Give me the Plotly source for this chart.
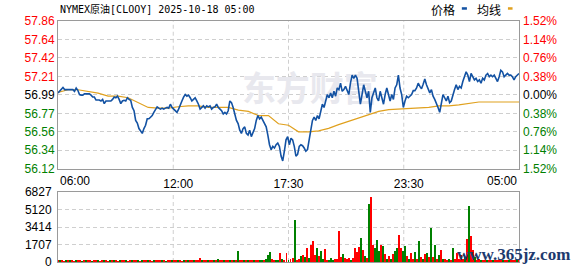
import numpy as np
import plotly.graph_objects as go

# ---------------- data ----------------
title_text = "NYMEX原油[CLOOY] 2025-10-18 05:00"
prev_close = 56.99
price_tick_labels = ["57.86", "57.64", "57.42", "57.21", "56.99", "56.77", "56.56", "56.34", "56.12"]
pct_tick_labels = ["1.52%", "1.14%", "0.76%", "0.38%", "0.00%", "0.38%", "0.76%", "1.14%", "1.52%"]
vol_tick_labels = ["0", "1707", "3414", "5120", "6827"]
vol_max = 6827
time_labels = ["06:00", "12:00", "17:30", "23:30", "05:00"]
time_minutes = [0, 360, 690, 1050, 1380]   # minutes after 06:00

price_seg1 = [57.013, 57.032, 57.052, 57.078, 57.052, 57.052, 57.044, 57.052, 57.044, 57.052,
              57.032, 57.071, 57.044, 56.994, 56.987, 56.987, 57.002, 57.002, 57.002, 57.002,
              56.987, 56.964, 56.964, 56.929, 56.929, 56.929, 56.918, 56.937, 56.887, 56.918,
              56.918, 56.918, 56.918, 56.937, 56.964, 56.956, 56.975, 56.937, 56.887, 56.918,
              56.926, 56.918, 56.956, 56.937, 56.926, 56.842, 56.803, 56.689, 56.658, 56.593,
              56.555, 56.536, 56.593, 56.632, 56.708, 56.708, 56.727, 56.746, 56.784, 56.822,
              56.849, 56.834, 56.822, 56.834, 56.822, 56.834, 56.842, 56.834, 56.880, 56.842,
              56.822, 56.803]
price_seg2 = [56.784, 56.822, 56.861, 56.918, 56.964, 56.994, 56.975, 56.987, 56.956,
              56.918, 56.937, 56.956, 56.918, 56.880, 56.822, 56.842, 56.861, 56.834, 56.861,
              56.849, 56.861, 56.822, 56.842, 56.849, 56.880, 56.842, 56.822, 56.803, 56.765,
              56.784, 56.765, 56.803, 56.918, 56.899, 56.842, 56.765, 56.689, 56.651, 56.574,
              56.536, 56.593, 56.613, 56.536, 56.517, 56.574, 56.498, 56.536, 56.593, 56.689,
              56.746, 56.708, 56.727, 56.689, 56.651, 56.613, 56.517, 56.403, 56.345, 56.383,
              56.364, 56.403, 56.422, 56.383, 56.269, 56.212, 56.326, 56.460, 56.498, 56.403,
              56.479]
price_seg3 = [56.460, 56.383, 56.269, 56.288, 56.383, 56.403, 56.391, 56.364, 56.326, 56.345,
              56.441, 56.574, 56.689, 56.727, 56.689, 56.746, 56.708, 56.803, 56.880, 56.842,
              56.937, 56.994, 56.956, 57.013, 56.956, 57.032, 56.975, 57.071, 57.052, 57.128,
              57.032, 57.052, 57.090, 57.032, 56.994, 57.128, 57.223, 57.185, 57.223, 57.185,
              57.032, 56.880, 56.994, 57.109, 57.032, 56.956, 57.032, 56.784, 56.956, 57.013,
              57.071, 56.956, 56.918, 57.032, 56.956, 56.880, 56.994, 57.071, 56.994, 56.918,
              56.994, 56.937, 57.071, 57.109, 57.223, 57.071, 56.994, 56.842, 56.918, 56.975]
price_seg4 = [56.956, 56.975, 56.994, 57.040, 57.040, 57.071, 57.128, 57.090, 57.063, 57.116,
              57.177, 57.109, 57.052, 57.013, 57.052, 56.975, 56.937, 56.899, 56.842, 56.784,
              56.880, 56.994, 56.956, 56.918, 56.975, 56.899, 56.918, 56.994, 57.052, 57.109,
              57.052, 57.090, 57.071, 57.147, 57.204, 57.261, 57.223, 57.147, 57.242, 57.204,
              57.166, 57.185, 57.147, 57.166, 57.128, 57.185, 57.166, 57.223, 57.242, 57.204,
              57.223, 57.204, 57.223, 57.185, 57.147, 57.204, 57.280, 57.261, 57.204, 57.223,
              57.242, 57.223, 57.223, 57.204, 57.166, 57.204, 57.223, 57.242]

avg_price = [57.02, 57.05, 57.05, 57.03, 57.01, 56.975, 56.975, 56.956, 56.90, 56.842,
             56.834, 56.834, 56.85, 56.861, 56.861, 56.842, 56.842, 56.842, 56.81, 56.796,
             56.746, 56.746, 56.65, 56.632, 56.555, 56.555, 56.565, 56.595, 56.64, 56.68,
             56.72, 56.76, 56.795, 56.815, 56.822, 56.83, 56.842, 56.842, 56.861, 56.861,
             56.872, 56.89, 56.906, 56.906, 56.906, 56.906, 56.906]

volume = [120, 90, 110, 80, 100, 130, 90, 110, 70, 100,
          90, 120, 80, 100, 110, 90, 130, 80, 100, 90,
          110, 80, 120, 90, 100, 70, 110, 90, 100, 120,
          80, 100, 90, 110, 100, 80, 120, 90, 100, 110,
          90, 80, 110, 100, 120, 90, 100, 80, 110, 90,
          100, 120, 90, 110, 80, 100, 90, 120, 100, 90,
          110, 100, 80, 120, 100, 180, 110, 90, 120, 100,
          110, 380, 120, 100, 90, 130, 110, 100, 120, 150,
          250, 120, 100, 130, 110, 140, 120, 100, 150, 130,
          1040, 150, 120, 140, 110, 160, 130, 150, 120, 200,
          150, 180, 140, 200, 300, 630, 950, 250, 180, 160,
          200, 850, 300, 220, 850, 180, 250, 400, 4080, 200,
          300, 600, 700, 500, 1330, 350, 1640, 2020, 700, 1330,
          600, 1040, 300, 1250, 150, 200, 400, 200, 300, 250,
          3060, 500, 800, 400, 250, 400, 200, 400, 1330, 1010,
          1490, 2370, 1150, 600, 400, 5690, 6350, 1650, 1330, 2120,
          1100, 1640, 1520, 800, 300, 600, 300, 750, 1040, 1400,
          2600, 1330, 1040, 1520, 600, 300, 850, 250, 950, 300,
          2020, 500, 300, 800, 900, 500, 3310, 500, 1640, 300,
          700, 1150, 300, 250, 200, 300, 200, 1400, 300, 850,
          250, 700, 300, 500, 2270, 5500, 2500, 1150, 500, 200,
          250, 200, 150, 180, 120, 150, 100, 130, 110, 120,
          100, 140, 110, 90, 120, 100, 110, 130, 100, 120,
          110]
volume_dir = ("rgrrgrgrrg" "rrgrgrrgrr" "grrgrrgrgr" "rgrrgrrgrr" "grgrrgrrgr"
              "rrgrgrrgrr" "grrgrgrrgr" "rrgrrgrrgr" "grrgrrgrgr" "grrgrgrrgr"
              "rggrgggrrg" "grgrrgrrgr" "rgrgrgrrrg" "rggrrgggrr" "rrgrrrgrrr"
              "rgrgrgrrgg" "grgrgrgrgg" "rrggrgrrgr" "grgrgrgrgr" "grgrrgrgrr"
              "rrrgrgrrgr" "rgrrgrrgrr" "rrgrrgrrrg" "r")

# ---------------- build ----------------
price = price_seg1 + price_seg2 + price_seg3 + price_seg4
t_end = time_minutes[-1]
price_x = np.linspace(0, t_end, len(price))
avg_x = np.linspace(0, t_end, len(avg_price))
vol_x = np.linspace(0, t_end, len(volume))
vol_colors = ["#ff0000" if d == "r" else "#008000" for d in volume_dir]

tick_pos = np.linspace(56.12, 57.86, 9)[::-1]


def colored(labels, mid):
    out = []
    for i, s in enumerate(labels):
        c = "#ff0000" if i < mid else ("#000000" if i == mid else "#008000")
        out.append(f'<span style="color:{c}">{s}</span>')
    return out


FONT = "Liberation Sans, Arial, sans-serif"
CJK = "Noto Sans CJK SC, sans-serif"
GRID = "#cfcfcf"
BORDER = "#9a9a9a"
DASH = "4px,3px"

fig = go.Figure()

# watermark (below data)
fig.add_trace(go.Scatter(x=[754], y=[57.013], mode="text", text=["东方财富"],
                         textfont=dict(family=CJK, size=34, color="#e8e8ee", weight="bold"),
                         hoverinfo="skip", showlegend=False))

fig.add_trace(go.Scatter(x=avg_x, y=avg_price, mode="lines",
                         line=dict(color="#e0a11f", width=1.2), showlegend=False))
fig.add_trace(go.Scatter(x=price_x, y=price, mode="lines",
                         line=dict(color="#1352a3", width=1.6), showlegend=False))
# right axis helper (invisible)
fig.add_trace(go.Scatter(x=price_x, y=price, yaxis="y2", mode="lines", opacity=0,
                         hoverinfo="skip", showlegend=False))

fig.add_trace(go.Bar(x=vol_x, y=volume, xaxis="x2", yaxis="y3",
                     marker=dict(color=vol_colors, line=dict(width=0)),
                     width=t_end / 461.0, showlegend=False))

main_dom = [0.387, 1.0]
vol_dom = [0.0, 0.290]

fig.update_layout(
    width=578, height=276,
    margin=dict(l=58, r=59, t=21, b=7),
    paper_bgcolor="white", plot_bgcolor="white",
    bargap=0,
    xaxis=dict(domain=[0, 1], range=[0, t_end], anchor="y",
               tickvals=time_minutes[1:4], ticktext=time_labels[1:4],
               tickfont=dict(family=FONT, size=12, color="#000"),
               ticklabelstandoff=4,
               showgrid=False, zeroline=False, ticks="",
               showline=True, mirror=True, linecolor=BORDER, linewidth=1),
    yaxis=dict(domain=main_dom, range=[56.12, 57.86], anchor="x",
               tickvals=list(tick_pos), ticktext=colored(price_tick_labels, 4),
               tickfont=dict(family=FONT, size=12),
               showgrid=True, gridcolor=GRID, griddash=DASH, gridwidth=1,
               zeroline=False, ticks="",
               showline=True, mirror=True, linecolor=BORDER, linewidth=1),
    yaxis2=dict(overlaying="y", side="right", range=[56.12, 57.86], anchor="x",
                tickvals=list(tick_pos), ticktext=colored(pct_tick_labels, 4),
                tickfont=dict(family=FONT, size=12), ticklabelstandoff=3,
                showgrid=False, zeroline=False, ticks="", showline=False),
    xaxis2=dict(domain=[0, 1], range=[0, t_end], anchor="y3", matches="x",
                showticklabels=False, showgrid=False, zeroline=False, ticks="",
                showline=True, mirror=True, linecolor=BORDER, linewidth=1),
    yaxis3=dict(domain=vol_dom, range=[0, vol_max], anchor="x2",
                tickvals=np.linspace(0, vol_max, 5).tolist(), ticktext=vol_tick_labels,
                tickfont=dict(family=FONT, size=12, color="#000"),
                ticklabelstandoff=3,
                showgrid=True, gridcolor=GRID, griddash=DASH, gridwidth=1,
                zeroline=False, ticks="",
                showline=True, mirror=True, linecolor=BORDER, linewidth=1),
)

# vertical dashed grid lines at quarters
for xq in np.linspace(0, t_end, 5)[1:4]:
    for yr in ["y domain", "y3 domain"]:
        fig.add_shape(type="line", x0=xq, x1=xq, y0=0, y1=1, xref="x" if yr == "y domain" else "x2",
                      yref=yr, line=dict(color=GRID, width=1, dash=DASH), layer="below")

# end time labels
fig.add_annotation(x=0, y=0, xref="x", yref="y domain", text=time_labels[0], showarrow=False,
                   xanchor="left", yanchor="top", yshift=-3,
                   font=dict(family=FONT, size=12, color="#000"))
fig.add_annotation(x=t_end, y=0, xref="x", yref="y domain", text=time_labels[-1], showarrow=False,
                   xanchor="right", yanchor="top", yshift=-3,
                   font=dict(family=FONT, size=12, color="#000"))

# title
fig.add_annotation(x=0, y=1, xref="paper", yref="paper", text=title_text, showarrow=False,
                   xanchor="left", yanchor="middle", yshift=12,
                   font=dict(family="DejaVu Sans Mono, Noto Sans CJK SC, monospace", size=10, color="#000"))

# legend
fig.add_annotation(x=0.835, y=1, xref="paper", yref="paper", text="价格", showarrow=False,
                   xanchor="center", yanchor="middle", yshift=12,
                   font=dict(family=CJK, size=12, color="#000"))
fig.add_annotation(x=0.935, y=1, xref="paper", yref="paper", text="均线", showarrow=False,
                   xanchor="center", yanchor="middle", yshift=12,
                   font=dict(family=CJK, size=12, color="#000"))
fig.add_shape(type="line", xref="paper", yref="paper", x0=0.876, x1=0.887, y0=1.052, y1=1.052,
              line=dict(color="#1352a3", width=2.5))
fig.add_shape(type="line", xref="paper", yref="paper", x0=0.976, x1=0.986, y0=1.052, y1=1.052,
              line=dict(color="#e0a11f", width=2.5))

# site watermark
fig.add_annotation(x=0.988, y=0.032, xref="paper", yref="paper", text="www.365jz.com", showarrow=False,
                   xanchor="center", yanchor="middle",
                   font=dict(family="Liberation Serif, serif", size=17, color="#1d3a6e", weight="bold"))

fig.write_html("out.html")
